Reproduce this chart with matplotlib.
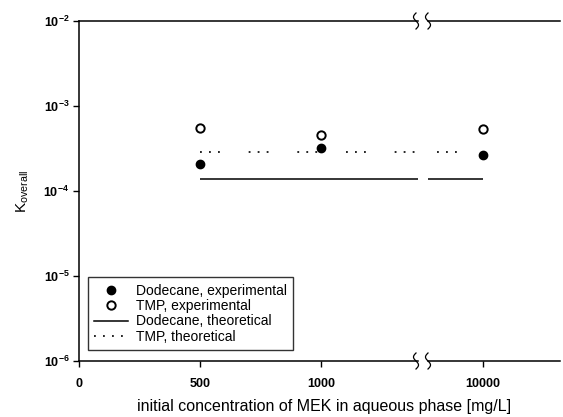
import numpy as np
import matplotlib
matplotlib.use("Agg")
import matplotlib.pyplot as plt
from matplotlib.lines import Line2D
from matplotlib.ticker import FuncFormatter

plt.rcParams['font.family'] = ['Liberation Sans', 'DejaVu Sans']
plt.rcParams['mathtext.fontset'] = 'custom'
plt.rcParams['mathtext.rm'] = 'Liberation Sans'
plt.rcParams['mathtext.bf'] = 'Liberation Sans:bold'
plt.rcParams['mathtext.it'] = 'Liberation Sans:italic'

# data
conc = [500, 1000, 10000]
dodecane_exp = [2.08e-4, 3.2e-4, 2.65e-4]
tmp_exp = [5.5e-4, 4.56e-4, 5.4e-4]
theo_x = [500, 10000]
dodecane_theo = [1.37e-4, 1.37e-4]
tmp_theo = [2.9e-4, 2.9e-4]
xticks1 = [0, 500, 1000]
xticks2 = [10000]
yticks = [1e-6, 1e-5, 1e-4, 1e-3, 1e-2]
labels = ['Dodecane, experimental', 'TMP, experimental',
          'Dodecane, theoretical', 'TMP, theoretical']

W, H = 563, 417
fig = plt.figure(figsize=(W / 100, H / 100), dpi=100)

def fx(px):
    return px / W

def fy(py):
    return 1 - py / H

bot, top = fy(361), fy(21)
ax1 = fig.add_axes([fx(79), bot, fx(418) - fx(79), top - bot])
ax2 = fig.add_axes([fx(428), bot, fx(560) - fx(428), top - bot])

tmp_dash = (0, (1.1, 4.3, 1.1, 4.3, 1.1, 17.3))
for ax in (ax1, ax2):
    ax.set_yscale('log')
    ax.set_ylim(1e-6, 1e-2)
    ax.plot(theo_x, dodecane_theo, color='black', lw=1.1, solid_capstyle='butt')
    ax.plot(theo_x, tmp_theo, color='black', lw=1.2, linestyle=tmp_dash)
    ax.plot(conc, dodecane_exp, 'o', color='black', ms=6, linestyle='none')
    ax.plot(conc, tmp_exp, 'o', mfc='white', mec='black', mew=1.4, ms=6, linestyle='none')
    for s in ax.spines.values():
        s.set_linewidth(1.1)
    ax.spines['right'].set_visible(False)
    ax.tick_params(axis='both', which='major', direction='out', length=4, width=1.0,
                   labelsize=9)
    ax.tick_params(axis='y', which='minor', left=False, right=False)

ax1.set_xlim(0, 1401)
ax2.set_xlim(9773, 10318)
ax1.set_xticks(xticks1)
ax2.set_xticks(xticks2)
for ax in (ax1, ax2):
    ax.tick_params(axis='x', labelsize=9, pad=8)
    for lab in ax.get_xticklabels():
        lab.set_fontweight('bold')
ax2.spines['left'].set_visible(False)
ax2.tick_params(axis='y', left=False, labelleft=False)
ax1.set_yticks(yticks)
ax1.yaxis.set_major_formatter(FuncFormatter(
    lambda v, p: r'$\mathbf{10^{%d}}$' % int(round(np.log10(v)))))
ax1.tick_params(axis='y', labelsize=9, pad=3)

ax1.set_ylabel(r'K$_{\mathrm{overall}}$', fontsize=11, labelpad=9)
fig.text(fx(324), fy(407), 'initial concentration of MEK in aqueous phase [mg/L]',
         ha='center', va='center', fontsize=11.5)

handles = [
    Line2D([], [], marker='o', color='black', ms=6, linestyle='none'),
    Line2D([], [], marker='o', mfc='white', mec='black', mew=1.4, ms=6, linestyle='none'),
    Line2D([], [], color='black', lw=1.1),
    Line2D([], [], color='black', lw=1.2, linestyle=(0, (1.1, 4.3))),
]
leg = ax1.legend(handles, labels, loc='lower left', bbox_to_anchor=(0.027, 0.032),
                 borderaxespad=0, fontsize=10, frameon=True, fancybox=False,
                 handlelength=2.4, handletextpad=0.6, labelspacing=0.1,
                 borderpad=0.45)
leg.get_frame().set_edgecolor('black')
leg.get_frame().set_linewidth(1.0)

# break marks
t = np.linspace(-1, 1, 40)
for xc in (416, 428):
    for yc in (21, 361):
        xs = fx(xc + 2.5 * np.sin(t * np.pi))
        ys = fy(yc + 8 * t)
        fig.add_artist(Line2D(xs, ys, color='black', lw=0.9, transform=fig.transFigure))

fig.savefig('out.png', dpi=100)
